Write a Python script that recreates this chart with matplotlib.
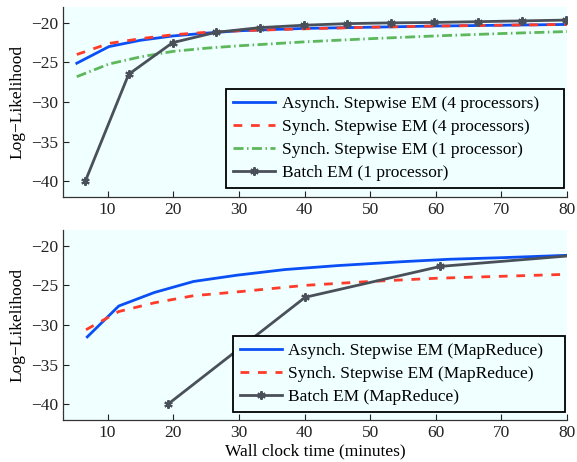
import numpy as np
import matplotlib.pyplot as plt

plt.rcParams['font.family'] = ['Liberation Serif', 'DejaVu Serif']
plt.rcParams['lines.scale_dashes'] = False

# top panel: single machine runs
t_async4 = [5.3, 10.2, 15, 20, 25, 30, 40, 50, 60, 70, 80]
ll_async4 = [-25.1, -23.0, -22.2, -21.65, -21.3, -21.0, -20.7, -20.55, -20.4, -20.3, -20.2]
t_sync4 = [5.3, 10.2, 15, 20, 25, 30, 40, 50, 60, 70, 80]
ll_sync4 = [-24.0, -22.6, -22.0, -21.5, -21.2, -21.0, -20.75, -20.55, -20.4, -20.3, -20.2]
t_sync1 = [5.3, 10.2, 15, 20, 25, 30, 40, 50, 60, 70, 80]
ll_sync1 = [-26.8, -25.2, -24.3, -23.6, -23.2, -22.9, -22.4, -22.0, -21.65, -21.35, -21.1]
t_batch1 = [6.6, 13.2, 19.9, 26.5, 33.2, 39.9, 46.5, 53.2, 59.8, 66.5, 73.2, 79.8]
ll_batch1 = [-40.0, -26.5, -22.5, -21.2, -20.6, -20.3, -20.1, -20.0, -19.95, -19.85, -19.75, -19.65]

# bottom panel: MapReduce runs
t_async_mr = [6.9, 11.7, 17.1, 23.1, 29.8, 37, 45, 55, 62, 70, 80]
ll_async_mr = [-31.5, -27.6, -25.9, -24.5, -23.7, -23.0, -22.5, -22.0, -21.7, -21.5, -21.2]
t_sync_mr = [6.7, 11.7, 17.1, 23.1, 30, 40, 50, 60, 70, 80]
ll_sync_mr = [-30.6, -28.3, -27.2, -26.3, -25.8, -25.0, -24.5, -24.1, -23.85, -23.6]
t_batch_mr = [19.2, 40.1, 60.7, 81.3]
ll_batch_mr = [-40.0, -26.5, -22.6, -21.2]

labels_top = ['Asynch. Stepwise EM (4 processors)', 'Synch. Stepwise EM (4 processors)',
              'Synch. Stepwise EM (1 processor)', 'Batch EM (1 processor)']
labels_bot = ['Asynch. Stepwise EM (MapReduce)', 'Synch. Stepwise EM (MapReduce)',
              'Batch EM (MapReduce)']

blue = '#0a4ff5'
red = '#ff3b2a'
green = '#5cb85a'
gray = '#4a505a'
bg = '#f0ffff'
fs = 12.5
lw = 2.0

fig = plt.figure(figsize=(5.77, 4.62), dpi=100)
ax1 = fig.add_axes([0.1092, 0.5736, 0.8735, 0.4112])
ax2 = fig.add_axes([0.1092, 0.0909, 0.8735, 0.4113])

star = (6, 2, 0)

ax1.plot(t_async4, ll_async4, color=blue, lw=lw, label=labels_top[0])
ax1.plot(t_sync4, ll_sync4, color=red, lw=lw, dashes=(6.3, 6.3), label=labels_top[1])
ax1.plot(t_sync1, ll_sync1, color=green, lw=lw, dashes=(7.2, 2.5, 1.1, 2.5), label=labels_top[2])
ax1.plot(t_batch1, ll_batch1, color=gray, lw=lw, marker=star, ms=6, mew=1.5, label=labels_top[3])

ax2.plot(t_async_mr, ll_async_mr, color=blue, lw=lw, label=labels_bot[0])
ax2.plot(t_sync_mr, ll_sync_mr, color=red, lw=lw, dashes=(6.3, 6.3), label=labels_bot[1])
ax2.plot(t_batch_mr, ll_batch_mr, color=gray, lw=lw, marker=star, ms=6, mew=1.5, label=labels_bot[2])

for ax in (ax1, ax2):
    ax.set_facecolor(bg)
    ax.set_xlim(3.2, 80)
    ax.set_ylim(-42, -18)
    ax.set_xticks([10, 20, 30, 40, 50, 60, 70, 80])
    ax.set_yticks([-40, -35, -30, -25, -20])
    ax.spines['top'].set_visible(False)
    ax.spines['right'].set_visible(False)
    for s in ('left', 'bottom'):
        ax.spines[s].set_color('#333333')
        ax.spines[s].set_linewidth(0.9)
    ax.tick_params(direction='in', length=4, width=0.8, labelsize=fs, colors='#222222')
    ax.set_ylabel('Log\u2212Likelihood', fontsize=fs)

ax2.set_xlabel('Wall clock time (minutes)', fontsize=fs, labelpad=2)

leg_kw = dict(fontsize=fs, handlelength=2.45, handletextpad=0.35, labelspacing=0.4,
              borderpad=0.4, borderaxespad=0, fancybox=False, framealpha=1,
              edgecolor='black', facecolor=bg, loc='lower left', mode='expand')
l1 = ax1.legend(bbox_to_anchor=(0.3917, 0.5931, 0.5858, 0.1),
                bbox_transform=fig.transFigure, **leg_kw)
l1.get_frame().set_linewidth(1.3)
l2 = ax2.legend(bbox_to_anchor=(0.4033, 0.1076, 0.5757, 0.1),
                bbox_transform=fig.transFigure, **leg_kw)
l2.get_frame().set_linewidth(1.3)

fig.savefig('out.png', dpi=100)
